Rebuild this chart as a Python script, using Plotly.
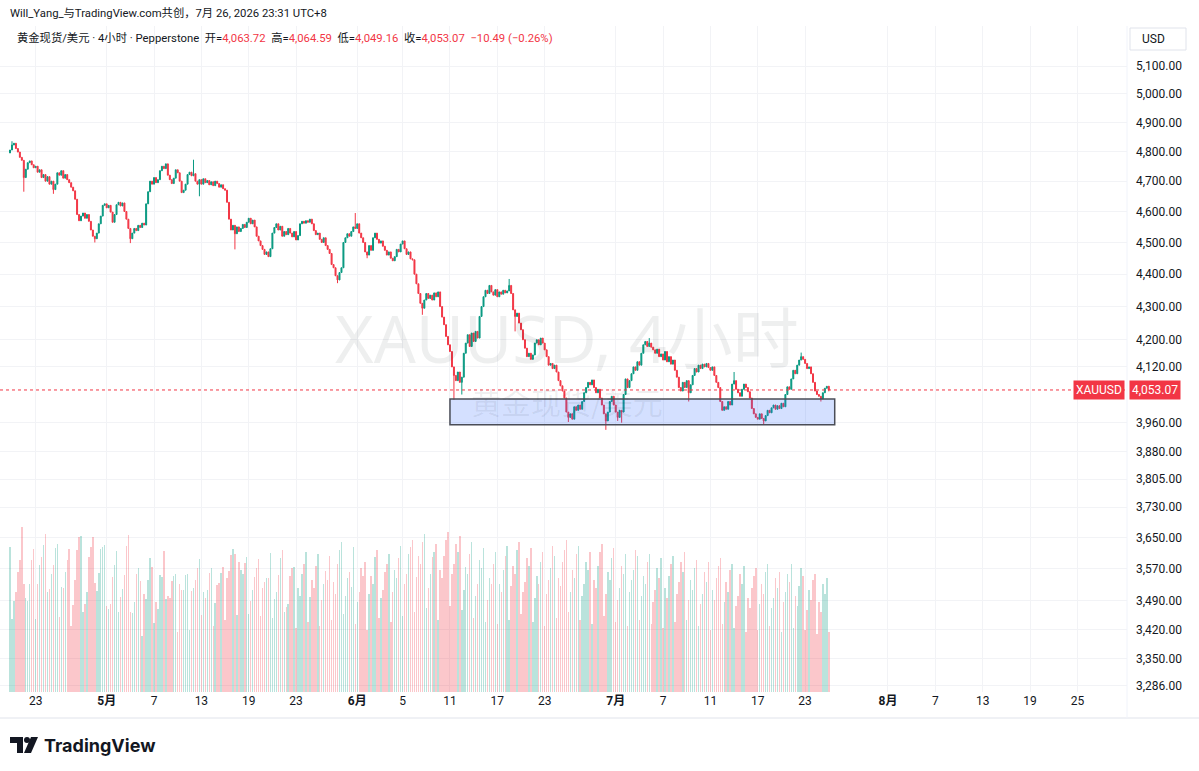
import math
from datetime import datetime, timedelta
import plotly.graph_objects as go

# ---------------- data ----------------
symbol = "XAUUSD"
title_name = "黄金现货/美元"
interval_label = "4小时"
broker = "Pepperstone"
first_bar_time = datetime(2026, 4, 20, 22, 0)
first_open = 4795.0
last_open = 4063.72

closes = [
    4805, 4822, 4828, 4810, 4798, 4780, 4770, 4712, 4740, 4762,
    4768, 4755, 4745, 4750, 4730, 4738, 4712, 4722, 4700, 4715,
    4690, 4700, 4672, 4690, 4728, 4720, 4735, 4710, 4722, 4705,
    4695, 4680, 4668, 4640, 4590, 4570, 4585, 4595, 4578, 4590,
    4568, 4540, 4520, 4512, 4530, 4560, 4585, 4620, 4625, 4612,
    4620, 4598, 4565, 4590, 4622, 4630, 4618, 4628, 4600, 4575,
    4545, 4512, 4530, 4545, 4538, 4555, 4548, 4562, 4556, 4625,
    4665, 4700, 4690, 4712, 4695, 4705, 4735, 4750, 4742, 4758,
    4720, 4705, 4692, 4710, 4738, 4728, 4700, 4662, 4670, 4690,
    4722, 4730, 4718, 4725, 4700, 4690, 4705, 4690, 4708, 4695,
    4702, 4688, 4698, 4685, 4700, 4692, 4680, 4688, 4675, 4670,
    4630, 4575, 4540, 4555, 4528, 4550, 4535, 4545, 4558, 4548,
    4565, 4578, 4560, 4572, 4550, 4520, 4505, 4490, 4478, 4462,
    4470, 4455, 4480, 4530, 4548, 4560, 4540, 4552, 4520, 4535,
    4525, 4545, 4530, 4518, 4535, 4508, 4522, 4560, 4568, 4562,
    4570, 4565, 4575, 4560, 4538, 4525, 4530, 4510, 4500, 4515,
    4490, 4478, 4465, 4430, 4420, 4395, 4382, 4405, 4420, 4500,
    4515, 4528, 4520, 4535, 4550, 4545, 4560, 4530, 4515, 4500,
    4470, 4460, 4490, 4475, 4515, 4530, 4510, 4498, 4505, 4488,
    4475, 4460, 4470, 4450, 4442, 4455, 4478, 4470, 4495, 4505,
    4480, 4462, 4470, 4448, 4445, 4400, 4370, 4340, 4310, 4295,
    4320, 4340, 4325, 4335, 4320, 4342, 4330, 4345, 4300, 4268,
    4245, 4210, 4185, 4165, 4120, 4095, 4080, 4105, 4075, 4090,
    4160, 4190, 4215, 4180, 4220, 4195, 4225, 4205, 4270, 4300,
    4330, 4350, 4340, 4365, 4345, 4335, 4352, 4330, 4345, 4338,
    4350, 4342, 4348, 4365, 4340, 4290, 4270, 4280, 4250, 4230,
    4200, 4175, 4150, 4160, 4142, 4155, 4190, 4200, 4185, 4205,
    4190, 4170, 4150, 4125, 4130, 4115, 4125, 4105, 4080, 4065,
    4050, 4030, 3990, 3975, 3985, 3970, 4005, 3995, 4010, 3998,
    4020, 4045, 4060, 4075, 4068, 4082, 4060, 4045, 4055, 4030,
    4010, 3985, 3965, 3990, 4020, 4035, 4010, 3990, 3975, 3995,
    3990, 4040, 4085, 4060, 4080, 4100, 4120, 4110, 4135, 4125,
    4160, 4185, 4195, 4180, 4190, 4178, 4170, 4160, 4172, 4150,
    4158, 4140, 4165, 4135, 4150, 4128, 4140, 4110, 4090, 4060,
    4050, 4075, 4060, 4080, 4045, 4068, 4095, 4115, 4105, 4125,
    4115, 4128, 4120, 4130, 4118, 4110, 4120, 4095, 4075, 4060,
    4020, 3995, 4005, 3998, 4020, 4010, 4070, 4080, 4055, 4045,
    4035, 4055, 4070, 4060, 4048, 4030, 4000, 3985, 3975, 3970,
    3985, 3972, 3965, 3980, 3995, 3988, 4002, 4010, 3998, 4008,
    4000, 4015, 4005, 4040, 4062, 4055, 4085, 4110, 4100, 4125,
    4140, 4150, 4142, 4130, 4115, 4120, 4100, 4075, 4050, 4040,
    4035, 4028, 4045, 4058, 4063.56, 4053.07,
]

# readable wick extremes (bar number -> price)
high_wicks = {1: 4835, 93: 4772, 175: 4595, 253: 4385, 324: 4205,
              367: 4105, 401: 4162, 415: 4064.59}
low_wicks = {7: 4665, 22: 4658, 43: 4500, 61: 4498, 96: 4650, 114: 4478,
             166: 4372, 181: 4450, 209: 4275, 225: 4025, 229: 4040, 256: 4225,
             283: 3962, 302: 3940, 308: 3965, 310: 3960, 344: 4020, 382: 3955,
             411: 4020, 415: 4049.16}

volumes = [
    145, 73, 91, 100, 120, 132, 165, 108, 94, 91, 108, 132,
    143, 73, 108, 127, 135, 147, 158, 100, 103, 118, 127, 144,
    148, 75, 105, 104, 120, 132, 143, 66, 87, 112, 142, 155,
    156, 80, 88, 100, 135, 145, 155, 109, 101, 119, 143, 145,
    147, 86, 83, 88, 115, 127, 141, 80, 95, 103, 117, 146,
    157, 80, 79, 90, 118, 124, 111, 56, 98, 93, 112, 134,
    125, 69, 90, 83, 117, 115, 141, 93, 96, 94, 111, 116,
    118, 60, 108, 102, 102, 117, 118, 62, 101, 104, 112, 124,
    133, 77, 100, 94, 102, 119, 124, 66, 89, 107, 109, 119,
    125, 72, 114, 121, 137, 143, 138, 77, 130, 122, 118, 129,
    135, 78, 91, 102, 115, 124, 133, 76, 104, 110, 114, 114,
    139, 74, 93, 100, 117, 134, 142, 80, 85, 88, 116, 124,
    125, 64,
    104, 96, 118, 128, 140, 70,
    95, 112, 104, 126, 138, 66,
    92, 108, 121, 112, 136, 72,
    110, 98, 128, 142, 150, 78,
    96, 114, 120, 105, 145, 68,
    90, 100, 124, 116, 130, 62,
    98, 116, 108, 135, 142, 74,
    94, 102, 120, 128, 138, 70,
    100, 122, 114, 134, 146, 76,
    108, 118, 138, 145, 152, 80,
    115, 136, 128, 150, 158, 84,
    104, 118, 135, 140, 148, 72,
    122, 114, 136, 152, 160, 86,
    118, 128, 148, 140, 156, 82,
    102, 125, 118, 138, 150, 74,
    96, 108, 132, 124, 144, 70,
    92, 114, 108, 128, 140, 68,
    108, 100, 122, 136, 146, 72,
    106, 126, 118, 142, 150, 78,
    100, 110, 134, 126, 144, 70,
    94, 116, 108, 130, 140, 66,
    98, 112, 124, 146, 136, 74,
    114, 106, 130, 142, 152, 80,
    100, 122, 114, 138, 146, 72,
    96, 108, 130, 122, 140, 68,
    112, 104, 126, 140, 148, 76,
    98, 120, 112, 134, 144, 70,
    92, 104, 126, 118, 138, 66,
    100, 112, 122, 142, 136, 72,
    96, 116, 108, 130, 138, 68,
    90, 102, 124, 114, 134, 64,
    104, 94, 116, 128, 136, 70,
    98, 110, 130, 120, 140, 72,
    92, 112, 102, 124, 132, 66,
    88, 98, 120, 110, 130, 62,
    102, 92, 114, 126, 134, 68,
    90, 110, 100, 122, 128, 64,
    86, 96, 118, 108, 126, 60,
    94, 84, 104, 116, 124, 62,
    88, 108, 98, 120, 128, 66,
    84, 94, 114, 104, 120, 60,
    90, 100, 118, 110, 128, 64,
    96, 86, 106, 124, 116, 62,
    82, 102, 92, 112, 118, 58,
    90, 80, 108, 98, 114, 60,
]

price_ticks = [5100, 5000, 4900, 4800, 4700, 4600, 4500, 4400, 4300, 4200, 4120,
               3960, 3880, 3805, 3730, 3650, 3570, 3490, 3420, 3350, 3286]

x_label_dates = [
    ("2026-04-23", "23"), ("2026-05-01", "5月"), ("2026-05-07", "7"), ("2026-05-13", "13"),
    ("2026-05-19", "19"), ("2026-05-23", "23"), ("2026-06-01", "6月"), ("2026-06-05", "5"),
    ("2026-06-11", "11"), ("2026-06-17", "17"), ("2026-06-23", "23"), ("2026-07-01", "7月"),
    ("2026-07-07", "7"), ("2026-07-11", "11"), ("2026-07-17", "17"), ("2026-07-23", "23"),
    ("2026-08-01", "8月"), ("2026-08-07", "7"), ("2026-08-13", "13"), ("2026-08-19", "19"),
    ("2026-08-25", "25"),
]

zone_start = datetime(2026, 6, 11, 2, 0)
zone_end = datetime(2026, 7, 27, 14, 0)
zone_top = 4027
zone_bottom = 3954

# ---------------- trading calendar (4h bars, UTC+8) ----------------
def build_calendar(start, n):
    out, t = [], start
    while len(out) < n:
        wd, h = t.weekday(), t.hour
        if (wd == 0 and h >= 6) or (1 <= wd <= 4) or (wd == 5 and h == 2):
            out.append(t)
        t += timedelta(hours=4)
    return out

calendar = build_calendar(first_bar_time, 640)
n = len(closes)
xs = list(range(n))

opens = [first_open] + closes[:-1]
opens[-1] = last_open
highs = [max(o, c) for o, c in zip(opens, closes)]
lows = [min(o, c) for o, c in zip(opens, closes)]
for k, v in high_wicks.items():
    highs[k] = max(highs[k], v)
for k, v in low_wicks.items():
    lows[k] = min(lows[k], v)

def idx_of(dt):
    for i, t in enumerate(calendar):
        if t >= dt:
            return i
    return len(calendar) - 1

tickvals_x, ticktext_x = [], []
for d, lab in x_label_dates:
    dd = datetime.strptime(d, "%Y-%m-%d")
    tickvals_x.append(idx_of(dd))
    ticktext_x.append(f"<b>{lab}</b>" if "月" in lab else lab)

UP = "#089981"
DOWN = "#f23645"
vol_colors = ["rgba(8,153,129,0.28)" if c >= o else "rgba(242,54,69,0.28)"
              for o, c in zip(opens, closes)]

# ---------------- layout geometry ----------------
W, H = 1199, 771
ML, MR, MT, MB = 0, 72, 26, 79
PW = W - ML - MR
PH = H - MT - MB
plot_bottom_px = H - MB

def px2x(px):
    return (px - ML) / PW

def py2y(py):
    return (plot_bottom_px - py) / PH

# y range from pixel calibration (log scale)
LOG_PER_PX = 0.00030801
ref_log = math.log10(5100)
ref_px = 66
y_top = ref_log + (ref_px - MT) * LOG_PER_PX
y_bot = ref_log - (plot_bottom_px - ref_px) * LOG_PER_PX

def price2paper(v):
    return (math.log10(v) - y_bot) / (y_top - y_bot)

x_left = (ML - 10) / 1.973
x_right = (ML + PW - 10) / 1.973

def idx2paper(i):
    return (i - x_left) / (x_right - x_left)

fig = go.Figure()

fig.add_trace(go.Bar(
    x=xs, y=volumes[:n], marker=dict(color=vol_colors, line=dict(width=0)),
    width=0.72, yaxis="y2", hoverinfo="skip", showlegend=False,
))

fig.add_trace(go.Candlestick(
    x=xs, open=opens, high=highs, low=lows, close=closes,
    increasing=dict(line=dict(color=UP, width=1), fillcolor=UP),
    decreasing=dict(line=dict(color=DOWN, width=1), fillcolor=DOWN),
    whiskerwidth=0, showlegend=False, name=symbol,
))

last_close = closes[-1]
chg = closes[-1] - closes[-2]
pct = chg / closes[-2] * 100

shapes = []
# support zone
shapes.append(dict(
    type="rect", xref="paper", yref="paper",
    x0=idx2paper(idx_of(zone_start)), x1=idx2paper(idx_of(zone_end)),
    y0=price2paper(zone_bottom), y1=price2paper(zone_top),
    fillcolor="rgba(41,98,255,0.2)", line=dict(color="#4a4d57", width=1.5), layer="above",
))
# last price dotted line
shapes.append(dict(
    type="line", xref="paper", yref="paper", x0=0, x1=1,
    y0=price2paper(last_close), y1=price2paper(last_close),
    line=dict(color=DOWN, width=1, dash="dot"),
))
# frame lines
shapes.append(dict(type="line", xref="paper", yref="paper", x0=px2x(0), x1=px2x(W),
                   y0=py2y(718), y1=py2y(718), line=dict(color="#e0e3eb", width=1)))
shapes.append(dict(type="line", xref="paper", yref="paper", x0=1, x1=1,
                   y0=py2y(718), y1=py2y(MT), line=dict(color="#f0f3fa", width=1)))
# USD box
shapes.append(dict(type="rect", xref="paper", yref="paper", x0=px2x(1130), x1=px2x(1186),
                   y0=py2y(50), y1=py2y(28), line=dict(color="#e0e3eb", width=1),
                   fillcolor="white"))
# TradingView logo mark
def path(points):
    return "M " + " L ".join(f"{px2x(a)},{py2y(b)}" for a, b in points) + " Z"
shapes.append(dict(type="path", xref="paper", yref="paper",
                   path=path([(10, 737), (23, 737), (23, 753), (17, 753), (17, 743), (10, 743)]),
                   fillcolor="#131722", line=dict(width=0)))
shapes.append(dict(type="circle", xref="paper", yref="paper",
                   x0=px2x(24), x1=px2x(30), y0=py2y(743), y1=py2y(737),
                   fillcolor="#131722", line=dict(width=0)))
shapes.append(dict(type="path", xref="paper", yref="paper",
                   path=path([(31, 737), (38, 737), (31, 753), (24, 753)]),
                   fillcolor="#131722", line=dict(width=0)))

red = lambda s: f"<span style='color:{DOWN}'>{s}</span>"
info_line = (f"{title_name} · {interval_label} · {broker}  "
             f"开={red(f'{opens[-1]:,.2f}')}  高={red(f'{highs[-1]:,.2f}')}  "
             f"低={red(f'{lows[-1]:,.2f}')}  收={red(f'{closes[-1]:,.2f}')}  "
             + red(f"−{abs(chg):.2f} (−{abs(pct):.2f}%)"))

FONT = "Roboto, 'Noto Sans CJK SC', sans-serif"
annotations = [
    dict(xref="paper", yref="paper", x=px2x(8), y=py2y(14), xanchor="left", yanchor="middle",
         text="Will_Yang_与TradingView.com共创，7月 26, 2026 23:31 UTC+8", showarrow=False,
         font=dict(size=11.3, color="#131722", family=FONT)),
    dict(xref="paper", yref="paper", x=px2x(15), y=py2y(38), xanchor="left", yanchor="middle",
         text=info_line, showarrow=False, font=dict(size=11.3, color="#131722", family=FONT)),
    # watermark
    dict(xref="paper", yref="paper", x=px2x(567), y=py2y(337), xanchor="center", yanchor="middle",
         text=f"{symbol}, {interval_label}", showarrow=False,
         font=dict(size=66, color="rgba(19,23,34,0.07)", family="'Noto Sans', 'Noto Sans CJK SC'")),
    dict(xref="paper", yref="paper", x=px2x(567), y=py2y(401), xanchor="center", yanchor="middle",
         text=title_name, showarrow=False,
         font=dict(size=30, color="rgba(19,23,34,0.07)", family="'Noto Sans CJK SC'")),
    # price labels
    dict(xref="paper", yref="paper", x=1, xshift=2, y=price2paper(last_close), xanchor="left",
         yanchor="middle", text=f"{last_close:,.2f}", showarrow=False, bgcolor=DOWN,
         font=dict(size=12, color="white", family=FONT), borderpad=2),
    dict(xref="paper", yref="paper", x=1, xshift=-2, y=price2paper(last_close), xanchor="right",
         yanchor="middle", text=symbol, showarrow=False, bgcolor=DOWN,
         font=dict(size=12, color="white", family=FONT), borderpad=2),
    dict(xref="paper", yref="paper", x=px2x(1140), y=py2y(39), xanchor="left", yanchor="middle",
         text="USD", showarrow=False, font=dict(size=12, color="#131722", family=FONT)),
    dict(xref="paper", yref="paper", x=px2x(42), y=py2y(745), xanchor="left", yanchor="middle",
         text="<b>TradingView</b>", showarrow=False,
         font=dict(size=18, color="#131722", family="Inter, Roboto, sans-serif")),
]

fig.update_layout(
    width=W, height=H, autosize=False,
    margin=dict(l=ML, r=MR, t=MT, b=MB, pad=0),
    paper_bgcolor="white", plot_bgcolor="white",
    font=dict(family=FONT, color="#131722", size=12),
    xaxis=dict(range=[x_left, x_right], tickvals=tickvals_x, ticktext=ticktext_x,
               showgrid=True, gridcolor="#f2f3f6", gridwidth=1, zeroline=False,
               showline=False, ticks="", rangeslider=dict(visible=False),
               tickfont=dict(size=12, color="#131722"), fixedrange=True),
    yaxis=dict(type="log", side="right", range=[y_bot, y_top],
               tickvals=price_ticks, ticktext=[f"{v:,.2f}" for v in price_ticks],
               showgrid=True, gridcolor="#f2f3f6", gridwidth=1, zeroline=False,
               showline=False, ticks="", ticklabelstandoff=8,
               tickfont=dict(size=12, color="#131722")),
    yaxis2=dict(overlaying="y", range=[0, PH], visible=False, fixedrange=True),
    shapes=shapes, annotations=annotations, bargap=0, showlegend=False,
)

fig.write_html("out.html")
